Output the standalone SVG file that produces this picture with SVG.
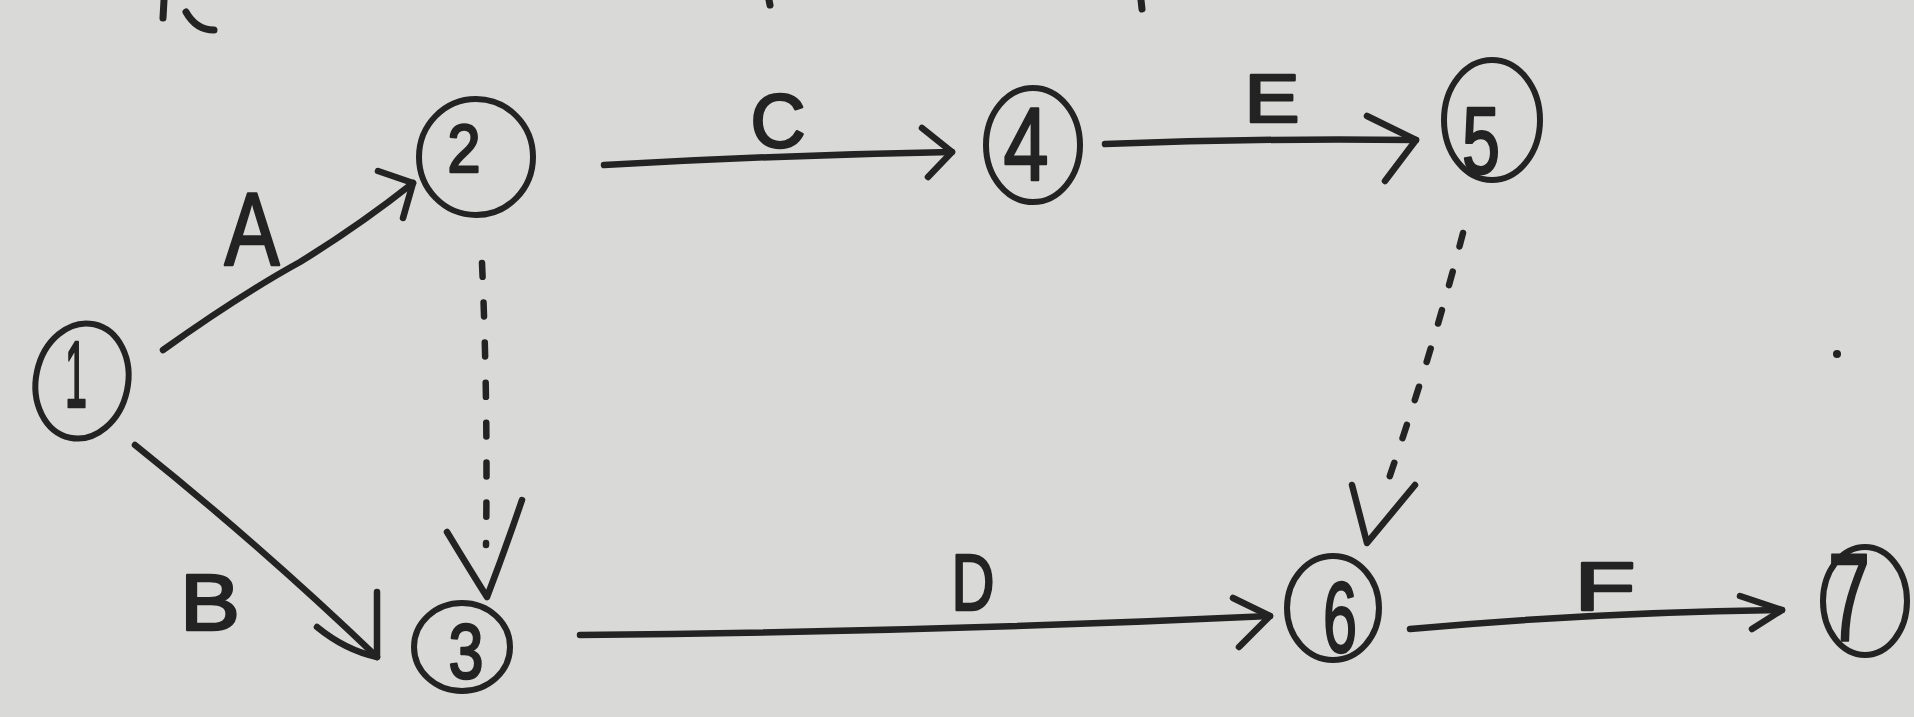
<svg xmlns="http://www.w3.org/2000/svg" width="1914" height="717" viewBox="0 0 1914 717">
<style>
.bg{fill:#d9d9d7}
.node{fill:none;stroke:#232323;stroke-width:6;stroke-linecap:round}
.num{font-family:"Liberation Sans","DejaVu Sans",sans-serif;fill:#232323;stroke:#232323;stroke-width:2.5;stroke-linejoin:round;text-anchor:middle}
.lbl{font-family:"Liberation Sans","DejaVu Sans",sans-serif;fill:#232323;stroke:#232323;stroke-width:2.5;stroke-linejoin:round;text-anchor:middle}
.edge{fill:none;stroke:#232323;stroke-width:6.5;stroke-linecap:round;stroke-linejoin:round}
.dash{fill:none;stroke:#232323;stroke-width:6.5;stroke-linecap:round;stroke-dasharray:14 26}
.mark{fill:none;stroke:#232323;stroke-width:7;stroke-linecap:round}
</style>
<rect class="bg" x="0" y="0" width="1914" height="717"/>
<g id="marks">
<path class="mark" d="M164,0 L163,18"/>
<path class="mark" d="M186,12 Q196,30 214,30"/>
<path class="mark" d="M769,0 L770,5"/>
<path class="mark" d="M1141,0 L1142,9"/>
<circle cx="1837" cy="354" r="4" fill="#232323"/>
</g>
<g id="connectors">
<g id="edge-A">
<path class="edge" d="M163,350 Q240,295 300,262 Q360,225 413,183"/>
<path class="edge" d="M378,171 L413,183 L403,218"/>
<text class="lbl" x="252" y="265" font-size="104" textLength="55" lengthAdjust="spacingAndGlyphs">A</text>
</g>
<g id="edge-B">
<path class="edge" d="M135,445 Q260,545 377,657"/>
<path class="edge" d="M317,627 Q345,650 377,657 L377,592"/>
<text class="lbl" x="210" y="630" font-size="80" textLength="60" lengthAdjust="spacingAndGlyphs">B</text>
</g>
<g id="edge-C">
<path class="edge" d="M604,165 Q780,155 952,152"/>
<path class="edge" d="M922,128 L952,152 L928,177"/>
<text class="lbl" x="778" y="147" font-size="76" textLength="55" lengthAdjust="spacingAndGlyphs">C</text>
</g>
<g id="edge-E">
<path class="edge" d="M1105,144 Q1260,138 1416,140"/>
<path class="edge" d="M1367,116 L1416,140 L1385,181"/>
<text class="lbl" x="1272" y="122" font-size="68" textLength="55" lengthAdjust="spacingAndGlyphs">E</text>
</g>
<g id="edge-D">
<path class="edge" d="M580,635 Q930,632 1270,616"/>
<path class="edge" d="M1233,598 L1270,616 L1239,647"/>
<text class="lbl" x="973" y="610" font-size="80" textLength="43" lengthAdjust="spacingAndGlyphs">D</text>
</g>
<g id="edge-F">
<path class="edge" d="M1410,629 Q1600,612 1782,610"/>
<path class="edge" d="M1740,596 L1782,610 L1752,629"/>
<text class="lbl" x="1605" y="610" font-size="68" textLength="61" lengthAdjust="spacingAndGlyphs">F</text>
</g>
<g id="edge-2-3">
<path class="dash" d="M482,263 Q488,400 486,545"/>
<path class="edge" d="M447,532 Q470,570 487,597 Q505,550 522,500"/>
</g>
<g id="edge-5-6">
<path class="dash" d="M1463,233 Q1430,360 1385,490"/>
<path class="edge" d="M1352,485 L1367,543 L1415,485"/>
</g>
</g>
<g id="node-1">
<ellipse class="node" cx="82" cy="381" rx="46" ry="58" transform="rotate(12 82 381)"/>
<text class="num" x="76" y="407" font-size="95" textLength="22" lengthAdjust="spacingAndGlyphs">1</text>
</g>
<g id="node-2">
<ellipse class="node" cx="476" cy="157" rx="57" ry="58"/>
<text class="num" x="464" y="172" font-size="68" textLength="33" lengthAdjust="spacingAndGlyphs">2</text>
</g>
<g id="node-3">
<ellipse class="node" cx="462" cy="647" rx="48" ry="44"/>
<text class="num" x="466" y="678" font-size="78" textLength="35" lengthAdjust="spacingAndGlyphs">3</text>
</g>
<g id="node-4">
<ellipse class="node" cx="1033" cy="145" rx="47" ry="57"/>
<text class="num" x="1026" y="180" font-size="104" textLength="45" lengthAdjust="spacingAndGlyphs">4</text>
</g>
<g id="node-5">
<ellipse class="node" cx="1492" cy="120" rx="48" ry="60"/>
<text class="num" x="1481" y="173" font-size="94" textLength="38" lengthAdjust="spacingAndGlyphs">5</text>
</g>
<g id="node-6">
<ellipse class="node" cx="1333" cy="608" rx="46" ry="52"/>
<text class="num" x="1340" y="652" font-size="100" textLength="34" lengthAdjust="spacingAndGlyphs">6</text>
</g>
<g id="node-7">
<ellipse class="node" cx="1865" cy="601" rx="42" ry="54"/>
<text class="num" x="1849" y="640" font-size="124" textLength="42" lengthAdjust="spacingAndGlyphs">7</text>
</g>
</svg>
